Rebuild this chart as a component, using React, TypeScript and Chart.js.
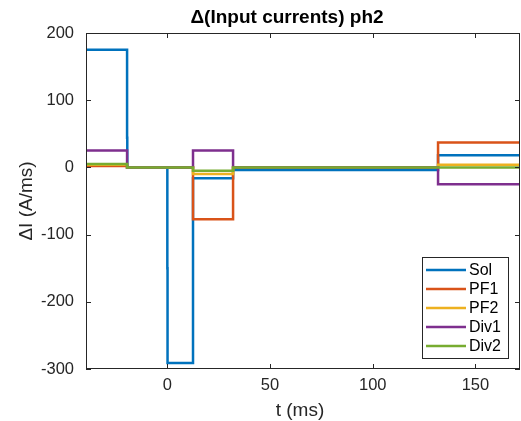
import React, { useEffect, useRef } from 'react';
import { Chart, registerables } from 'chart.js';

Chart.register(...registerables);

// ---- data ----
const seriesNames = ['Sol', 'PF1', 'PF2', 'Div1', 'Div2'];
const seriesColors = ['#0072BD', '#D95319', '#EDB120', '#7E2F8E', '#77AC30'];

const solTimes = [-39.6, -19.6, -19.5, 0, 0.1, 12.5, 32, 131.8, 171.7];
const solValues = [175, 44, 0, -150, -291, -16, -4, 18, 18];

const coilTimes = [-39.6, -19.6, 12.5, 32, 131.8, 171.7];
const pf1Values = [2, 0, -77, 0, 37, 37];
const pf2Values = [4, 0, -10, 0, 4, 4];
const div1Values = [25, 0, 25, 0, -25, -25];
const div2Values = [5, 0, -5, 0, 0, 0];

const xTicks = [0, 50, 100, 150];
const yTicks = [-300, -200, -100, 0, 100, 200];
const xMin = -39.6;
const xMax = 171.7;

const titleText = 'Δ(Input currents) ph2';
const xLabel = 't (ms)';
const yLabel = 'ΔI (A/ms)';

const AXIS_COLOR = '#262626';
const FONT = '"Liberation Sans", Arial, Helvetica, sans-serif';

function pts(t: number[], v: number[]) {
  return t.map((x, i) => ({ x, y: v[i] }));
}

const framePlugin = {
  id: 'matlabFrame',
  afterDraw(chart: any) {
    const ctx = chart.ctx as CanvasRenderingContext2D;
    const a = chart.chartArea;
    const xs = chart.scales.x;
    const ys = chart.scales.y;
    ctx.save();
    // box
    ctx.strokeStyle = AXIS_COLOR;
    ctx.lineWidth = 1;
    ctx.strokeRect(Math.round(a.left) + 0.5, Math.round(a.top) + 0.5, Math.round(a.right - a.left) - 1, Math.round(a.bottom - a.top) - 1);
    const tl = 5;
    ctx.beginPath();
    xTicks.forEach((v) => {
      const px = Math.round(xs.getPixelForValue(v)) + 0.5;
      ctx.moveTo(px, a.bottom);
      ctx.lineTo(px, a.bottom - tl);
      ctx.moveTo(px, a.top);
      ctx.lineTo(px, a.top + tl);
    });
    yTicks.forEach((v) => {
      const py = Math.round(ys.getPixelForValue(v)) + 0.5;
      ctx.moveTo(a.left, py);
      ctx.lineTo(a.left + tl, py);
      ctx.moveTo(a.right, py);
      ctx.lineTo(a.right - tl, py);
    });
    ctx.stroke();

    // title
    ctx.fillStyle = '#000';
    ctx.font = `bold 19px ${FONT}`;
    ctx.textAlign = 'center';
    ctx.textBaseline = 'alphabetic';
    ctx.fillText(titleText, 287, 23);

    // x label
    ctx.fillStyle = AXIS_COLOR;
    ctx.font = `19px ${FONT}`;
    ctx.fillText(xLabel, 300, 416);

    // y label
    ctx.save();
    ctx.translate(27, 201);
    ctx.rotate(-Math.PI / 2);
    ctx.textBaseline = 'middle';
    ctx.fillText(yLabel, 0, 0);
    ctx.restore();

    // legend
    const lx = 422.5, ly = 257.5, lw = 86, lh = 101;
    ctx.fillStyle = '#fff';
    ctx.fillRect(lx, ly, lw, lh);
    ctx.strokeStyle = AXIS_COLOR;
    ctx.lineWidth = 1;
    ctx.strokeRect(lx, ly, lw, lh);
    ctx.font = `16px ${FONT}`;
    ctx.textAlign = 'left';
    ctx.textBaseline = 'middle';
    seriesNames.forEach((n, i) => {
      const y = 270 + i * 19;
      ctx.strokeStyle = seriesColors[i];
      ctx.lineWidth = 2.5;
      ctx.beginPath();
      ctx.moveTo(426, y);
      ctx.lineTo(466, y);
      ctx.stroke();
      ctx.fillStyle = '#000';
      ctx.fillText(n, 469, y + 1);
    });
    ctx.restore();
  },
};

export default function App() {
  const ref = useRef<HTMLCanvasElement | null>(null);
  useEffect(() => {
    if (!ref.current) return;
    const valueSets = [solValues, pf1Values, pf2Values, div1Values, div2Values];
    const datasets = seriesNames.map((name, i) => ({
      label: name,
      data: i === 0 ? pts(solTimes, solValues) : pts(coilTimes, valueSets[i]),
      borderColor: seriesColors[i],
      backgroundColor: seriesColors[i],
      borderWidth: 2.5,
      pointRadius: 0,
      stepped: 'before' as const,
      fill: false,
      order: seriesNames.length - i,
    }));
    const chart = new Chart(ref.current, {
      type: 'line',
      data: { datasets },
      options: {
        animation: false,
        responsive: false,
        devicePixelRatio: 1,
        layout: { padding: { top: 33, right: 1, left: 0, bottom: 0 } },
        plugins: { legend: { display: false }, tooltip: { enabled: false }, title: { display: false } },
        scales: {
          x: {
            type: 'linear',
            min: xMin,
            max: xMax,
            grid: { display: false, drawTicks: false },
            border: { display: false },
            afterBuildTicks: (axis: any) => {
              axis.ticks = xTicks.map((v) => ({ value: v }));
            },
            afterFit: (s: any) => {
              s.height = 52;
            },
            ticks: {
              autoSkip: false,
              maxRotation: 0,
              padding: 7,
              color: AXIS_COLOR,
              font: { family: FONT, size: 16.5 },
              callback: (v: any) => String(v),
            },
          },
          y: {
            type: 'linear',
            min: -300,
            max: 200,
            grid: { display: false, drawTicks: false },
            border: { display: false },
            afterBuildTicks: (axis: any) => {
              axis.ticks = yTicks.map((v) => ({ value: v }));
            },
            afterFit: (s: any) => {
              s.width = 86;
            },
            ticks: {
              autoSkip: false,
              padding: 12,
              color: AXIS_COLOR,
              font: { family: FONT, size: 16.5 },
              callback: (v: any) => String(v),
            },
          },
        },
      },
      plugins: [framePlugin],
    });
    return () => chart.destroy();
  }, []);
  return (
    <div style={{ position: 'absolute', left: 0, top: 0, width: 521, height: 421, background: '#fff' }}>
      <canvas ref={ref} width={521} height={421} style={{ width: 521, height: 421, display: 'block' }} />
    </div>
  );
}
